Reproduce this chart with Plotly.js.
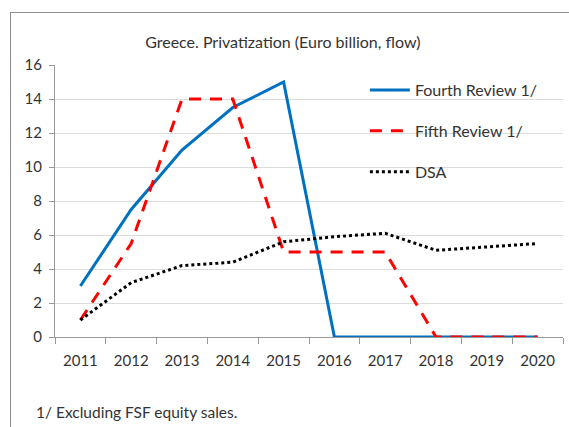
<!DOCTYPE html>
<html><head><meta charset="utf-8">
<script src="https://cdn.plot.ly/plotly-3.0.1.min.js"></script>
<style>
html,body{margin:0;padding:0;background:#fff;width:569px;height:427px;overflow:hidden;}
#frame{position:absolute;left:10px;top:12px;width:600px;height:500px;border:1px solid #8c8c8c;}
#chart{position:absolute;left:0;top:0;width:569px;height:427px;}
</style></head>
<body>
<div id="frame"></div>
<div id="chart"></div>
<script>
const years = ['2011','2012','2013','2014','2015','2016','2017','2018','2019','2020'];
const fourthReview = [3, 7.5, 11, 13.5, 15, 0, 0, 0, 0, 0];
const fifthReview = [1, 5.5, 14, 14, 5, 5, 5, 0, 0, 0];
const dsa = [1, 3.2, 4.2, 4.4, 5.6, 5.9, 6.1, 5.1, 5.3, 5.5];
const yTicks = [0,2,4,6,8,10,12,14,16];

const FONT = 'Lato, "Open Sans", sans-serif';

const traces = [
  {x: years, y: fourthReview, name: 'Fourth Review 1/', mode: 'lines', legendgroup: 'a',
   line: {color: '#0070C0', width: 3}},
  {x: years, y: fifthReview, name: 'Fifth Review 1/', mode: 'lines', legendgroup: 'b',
   line: {color: '#FF0000', width: 3, dash: '12px,9px'}},
  {x: years, y: dsa, name: 'DSA', mode: 'lines', legendgroup: 'c',
   line: {color: '#000000', width: 3, dash: 'dot'}}
];

const layout = {
  width: 569, height: 427,
  margin: {l: 55, r: 6, t: 65, b: 90},
  paper_bgcolor: 'rgba(0,0,0,0)', plot_bgcolor: 'rgba(0,0,0,0)',
  font: {family: FONT, size: 15, color: '#333'},
  title: {text: 'Greece. Privatization (Euro billion, flow)', x: 0.497, xanchor: 'center', y: 0.9, yanchor: 'middle',
          font: {family: FONT, size: 16, color: '#333'}},
  xaxis: {type: 'category', tickson: 'boundaries', ticks: 'outside', ticklen: 6, tickcolor: '#999',
          showline: true, linecolor: '#999', linewidth: 1, showgrid: false, zeroline: false,
          ticklabelstandoff: 10,
          tickfont: {family: FONT, size: 15, color: '#333'}, range: [-0.5, 9.5]},
  yaxis: {range: [0, 16], tickvals: yTicks, ticks: 'outside', ticklen: 5, tickcolor: '#999',
          showline: true, linecolor: '#999', linewidth: 1, gridcolor: '#dcdcdc', gridwidth: 1,
          zeroline: false, ticklabelstandoff: 4, tickfont: {family: FONT, size: 15, color: '#333'}},
  showlegend: true,
  legend: {x: 0.61, xanchor: 'left', y: 0.97, yanchor: 'top', bgcolor: 'rgba(0,0,0,0)',
           tracegroupgap: 17, itemwidth: 40, font: {family: FONT, size: 16, color: '#333'}},
  annotations: [
    {text: '1/ Excluding FSF equity sales.', xref: 'paper', yref: 'paper', x: -0.042, y: -0.275,
     xanchor: 'left', yanchor: 'middle', showarrow: false, font: {family: FONT, size: 15.5, color: '#333'}}
  ]
};

Plotly.newPlot('chart', traces, layout, {displayModeBar: false, staticPlot: true});
</script>
</body></html>
